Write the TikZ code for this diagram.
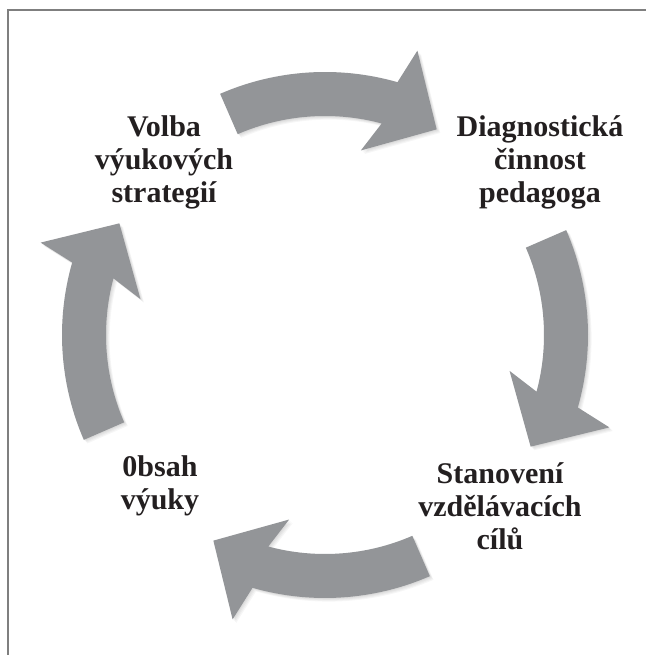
\documentclass[tikz,border=0pt]{standalone}
\usepackage{fontspec}
\setmainfont{Liberation Serif}
\definecolor{arrowgray}{HTML}{939598}
\definecolor{textdark}{HTML}{231F20}
\definecolor{framegray}{HTML}{7F7F7F}
\newcommand{\cyclearrow}[1]{%
  (#1+113.5:263) arc[start angle=#1+113.5, end angle=#1+74, radius=263]
  -- (#1+72:299) -- (#1+61.5:234) -- (#1+79:188) -- (#1+75:219)
  arc[start angle=#1+75, end angle=#1+113.5, radius=219] -- cycle}
\tikzset{
  label/.style={font=\fontsize{30}{33}\selectfont\bfseries, text=textdark,
    align=center, inner sep=0pt},
  arrowfill/.style={fill=arrowgray, draw=none},
  shadowfill/.style={fill=black, fill opacity=0.035, draw=none}
}
\begin{document}
\begin{tikzpicture}[x=1pt,y=1pt]
\useasboundingbox (0,0) rectangle (646,655);
\fill[white] (0,0) rectangle (646,655);
\draw[framegray, line width=1.3pt] (8,0) -- (8,645) -- (646,645);
\begin{scope}[shift={(325,320)}]
  \foreach \r in {0,-90,180,90}{
    \foreach \k in {1,2,3,4}{
      \fill[shadowfill, shift={(\k*0.9,-\k*0.9)}] \cyclearrow{\r};
    }
    \fill[arrowfill] \cyclearrow{\r};
  }
\end{scope}
\node[label] (volba) at (164,493) {Volba\\výukových\\strategií};
\node[label] (diag) at (540,493) {Diagnostická\\činnost\\pedagoga};
\node[label] (obsah) at (160,169) {0bsah\\výuky};
\node[label] (stan) at (500,149) {Stanovení\\vzdělávacích\\cílů};
\end{tikzpicture}
\end{document}
